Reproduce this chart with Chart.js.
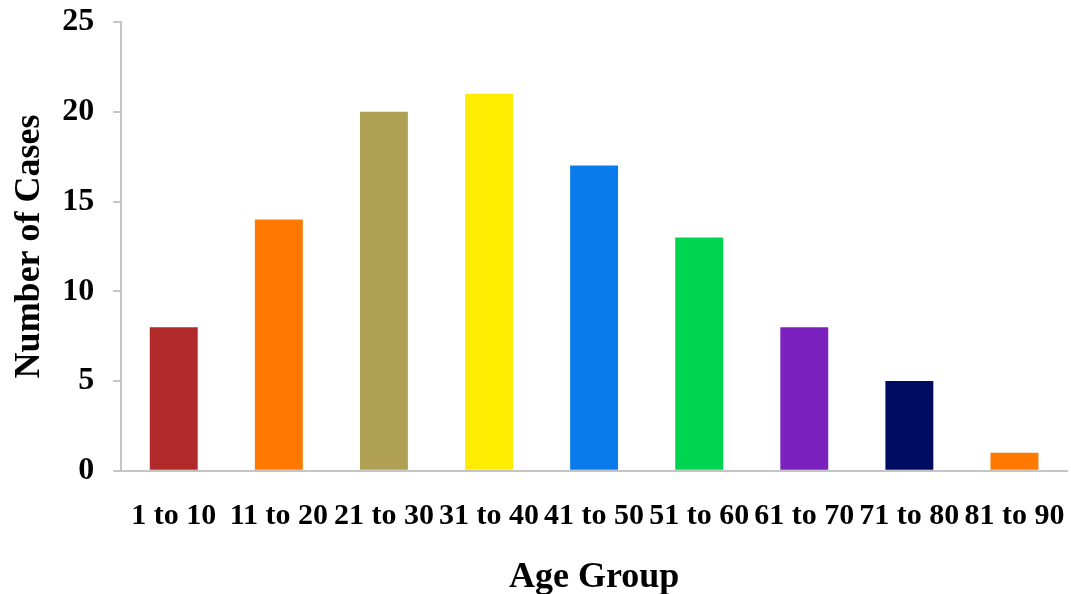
<!DOCTYPE html>
<html>
<head>
<meta charset="utf-8">
<script src="https://cdn.jsdelivr.net/npm/chart.js@4"></script>
<style>
  html, body { margin: 0; padding: 0; background: #fff; }
  #wrap { width: 1071px; height: 594px; }
</style>
</head>
<body>
<div id="wrap"><canvas id="c" width="1071" height="594"></canvas></div>
<script>
// Cases per age group
const ageGroups = ['1 to 10', '11 to 20', '21 to 30', '31 to 40', '41 to 50', '51 to 60', '61 to 70', '71 to 80', '81 to 90'];
const cases = [8, 14, 20, 21, 17, 13, 8, 5, 1];
const barColors = ['#B12A2A', '#FF7800', '#B0A053', '#FFEC00', '#0A7BEA', '#00D450', '#7B22BE', '#000C62', '#FF7800'];
const yTicks = [0, 5, 10, 15, 20, 25];

const axisGrey = '#C4C4C4';
const serif = '"Liberation Serif", "Times New Roman", serif';

// keep the plot area edges fixed instead of growing for overhanging labels
const noEdgePadding = (scale) => {
  scale.paddingLeft = 0; scale.paddingRight = 0;
  scale.paddingTop = 0; scale.paddingBottom = 0;
};

new Chart(document.getElementById('c'), {
  type: 'bar',
  data: {
    labels: ageGroups,
    datasets: [{
      data: cases,
      backgroundColor: barColors,
      borderWidth: 0,
      barPercentage: 0.456,
      categoryPercentage: 1.0
    }]
  },
  options: {
    responsive: false,
    animation: false,
    layout: { padding: { top: 22, right: 4, bottom: 0, left: 8 } },
    plugins: { legend: { display: false }, tooltip: { enabled: false } },
    scales: {
      x: {
        afterFit: noEdgePadding,
        grid: { display: false, drawTicks: false },
        border: { display: true, color: axisGrey, width: 2 },
        ticks: {
          autoSkip: false, maxRotation: 0, minRotation: 0,
          padding: 27, color: '#000',
          font: { family: serif, size: 30, weight: 'bold' }
        },
        title: {
          display: true, text: 'Age Group', color: '#000',
          padding: { top: -5, bottom: -5 },
          font: { family: serif, size: 36, weight: 'bold' }
        }
      },
      y: {
        min: 0, max: 25,
        afterFit: noEdgePadding,
        afterBuildTicks: (axis) => { axis.ticks = yTicks.map(v => ({ value: v })); },
        grid: { drawOnChartArea: false, drawTicks: true, tickLength: 8, color: axisGrey, lineWidth: 2 },
        border: { display: true, color: axisGrey, width: 2 },
        ticks: {
          padding: 19, color: '#000',
          font: { family: serif, size: 32, weight: 'bold' }
        },
        title: {
          display: true, text: 'Number of Cases', color: '#000',
          padding: { top: 0, bottom: -8 },
          font: { family: serif, size: 36, weight: 'bold' }
        }
      }
    }
  }
});
</script>
</body>
</html>
